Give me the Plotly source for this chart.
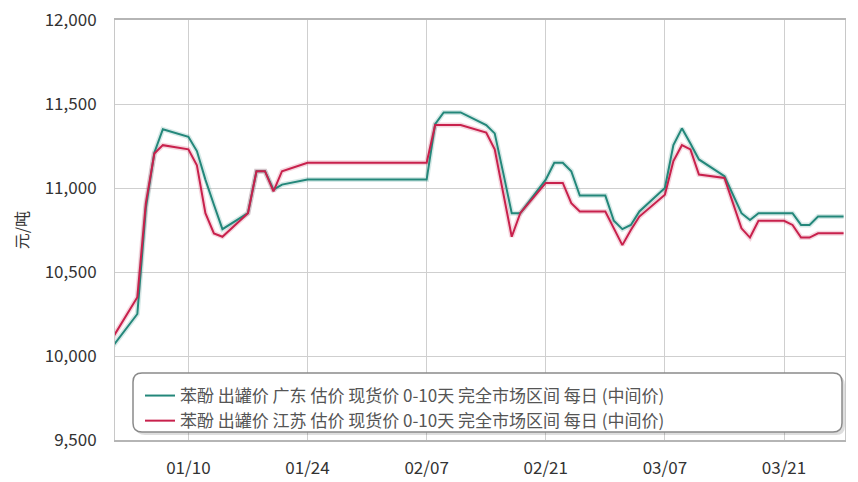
import plotly.graph_objects as go

dates = [
    "2022-01-01", "2022-01-04", "2022-01-05", "2022-01-06", "2022-01-07",
    "2022-01-10", "2022-01-11", "2022-01-12", "2022-01-13", "2022-01-14",
    "2022-01-17", "2022-01-18", "2022-01-19", "2022-01-20", "2022-01-21",
    "2022-01-24", "2022-01-25", "2022-01-26", "2022-01-27", "2022-01-28",
    "2022-02-07", "2022-02-08", "2022-02-09", "2022-02-10", "2022-02-11",
    "2022-02-14", "2022-02-15", "2022-02-16", "2022-02-17", "2022-02-18",
    "2022-02-21", "2022-02-22", "2022-02-23", "2022-02-24", "2022-02-25",
    "2022-02-28", "2022-03-01", "2022-03-02", "2022-03-03", "2022-03-04",
    "2022-03-07", "2022-03-08", "2022-03-09", "2022-03-10", "2022-03-11",
    "2022-03-14", "2022-03-15", "2022-03-16", "2022-03-17", "2022-03-18",
    "2022-03-21", "2022-03-22", "2022-03-23", "2022-03-24", "2022-03-25",
    "2022-03-28",
]

guangdong = [
    10050, 10250, 10880, 11210, 11350,
    11305, 11220, 11050, 10900, 10755,
    10850, 11100, 11100, 10990, 11020,
    11050, 11050, 11050, 11050, 11050,
    11050, 11380, 11450, 11450, 11450,
    11375, 11325, 11090, 10850, 10850,
    11050, 11150, 11150, 11100, 10955,
    10955, 10805, 10755, 10780, 10860,
    11000, 11255, 11355, 11265, 11170,
    11070, 10960, 10850, 10810, 10850,
    10850, 10850, 10780, 10780, 10830,
    10830,
]

jiangsu = [
    10100, 10350, 10910, 11205, 11255,
    11230, 11135, 10850, 10730, 10710,
    10850, 11100, 11100, 10980, 11100,
    11150, 11150, 11150, 11150, 11150,
    11150, 11375, 11375, 11375, 11375,
    11330, 11230, 10970, 10710, 10850,
    11030, 11030, 11030, 10910, 10860,
    10860, 10760, 10660, 10750, 10830,
    10960, 11160, 11255, 11230, 11080,
    11060, 10910, 10760, 10705, 10805,
    10805, 10780, 10705, 10705, 10730,
    10730,
]

series_names = [
    "苯酚 出罐价 广东 估价 现货价 0-10天 完全市场区间 每日 (中间价)",
    "苯酚 出罐价 江苏 估价 现货价 0-10天 完全市场区间 每日 (中间价)",
]
y_ticks = [9500, 10000, 10500, 11000, 11500, 12000]

GREEN = "#23877a"
RED = "#c8214c"
FONT = "Noto Sans CJK SC, Noto Sans, sans-serif"

fig = go.Figure()

# soft shadow under lines
for vals, col in [(guangdong, "rgba(35,135,122,0.18)"), (jiangsu, "rgba(200,33,76,0.18)")]:
    fig.add_trace(go.Scatter(
        x=dates, y=vals, mode="lines", line=dict(color=col, width=5),
        showlegend=False, hoverinfo="skip",
    ))

fig.add_trace(go.Scatter(x=dates, y=guangdong, mode="lines", name=series_names[0],
                         line=dict(color=GREEN, width=2)))
fig.add_trace(go.Scatter(x=dates, y=jiangsu, mode="lines", name=series_names[1],
                         line=dict(color=RED, width=2)))

W, H = 858, 482
ml, mr, mt, mb = 115, 13, 20, 42
pw, ph = W - ml - mr, H - mt - mb

def px_x(p):
    return (p - ml) / pw

def px_y(p):
    return (H - mb - p) / ph

def rounded(xa, xb, ya, yb, rx, ry):
    return (f"M {xa+rx},{yb} L {xb-rx},{yb} Q {xb},{yb} {xb},{yb-ry} "
            f"L {xb},{ya+ry} Q {xb},{ya} {xb-rx},{ya} L {xa+rx},{ya} "
            f"Q {xa},{ya} {xa},{ya+ry} L {xa},{yb-ry} Q {xa},{yb} {xa+rx},{yb} Z")

# rounded legend box
x0, x1 = px_x(133), px_x(842)
y0, y1 = px_y(432), px_y(373)
r = 9
rx, ry = r / pw, r / ph
dx, dy = 3 / pw, 3 / ph
fig.add_shape(type="path", path=rounded(x0 + dx, x1 + dx, y0 - dy, y1 - dy, rx, ry),
              xref="paper", yref="paper",
              line=dict(color="rgba(0,0,0,0)", width=0), fillcolor="rgba(0,0,0,0.13)", layer="above")
fig.add_shape(type="path", path=rounded(x0, x1, y0, y1, rx, ry), xref="paper", yref="paper",
              line=dict(color="#8a8a8a", width=1.5), fillcolor="white", layer="above")

fig.update_layout(
    width=W, height=H,
    margin=dict(l=ml, r=mr, t=mt, b=mb, pad=0, autoexpand=False),
    paper_bgcolor="white", plot_bgcolor="white",
    font=dict(family=FONT, color="#333333", size=15),
    showlegend=True,
    legend=dict(
        x=px_x(140), y=px_y(378), xanchor="left", yanchor="top",
        bgcolor="rgba(0,0,0,0)", borderwidth=0,
        font=dict(size=17, color="#555555", family=FONT),
        itemwidth=30, tracegroupgap=0,
    ),
    xaxis=dict(
        type="date", automargin=False,
        range=["2022-01-01 09:00", "2022-03-28 04:00"],
        tick0="2022-01-10", dtick=14 * 86400000, tickformat="%m/%d",
        showgrid=True, gridcolor="#cfcfcf", gridwidth=1,
        showline=True, linecolor="#b5b5b5", linewidth=2, mirror=True,
        ticks="", ticklabelstandoff=12,
        tickfont=dict(size=17, color="#333333"),
        zeroline=False,
    ),
    yaxis=dict(
        automargin=False,
        range=[9500, 12000], tickvals=y_ticks, tickformat=",d",
        showgrid=True, gridcolor="#cfcfcf", gridwidth=1,
        showline=True, linecolor="#c8c8c8", linewidth=1, mirror=True,
        ticks="", ticklabelstandoff=14,
        tickfont=dict(size=17, color="#333333"),
        title=dict(text="元/吨", font=dict(size=16, color="#333333"), standoff=12),
        zeroline=False,
    ),
)

fig.write_html("out.html", config={"displayModeBar": False},
               post_script="document.body.style.margin='0';")
